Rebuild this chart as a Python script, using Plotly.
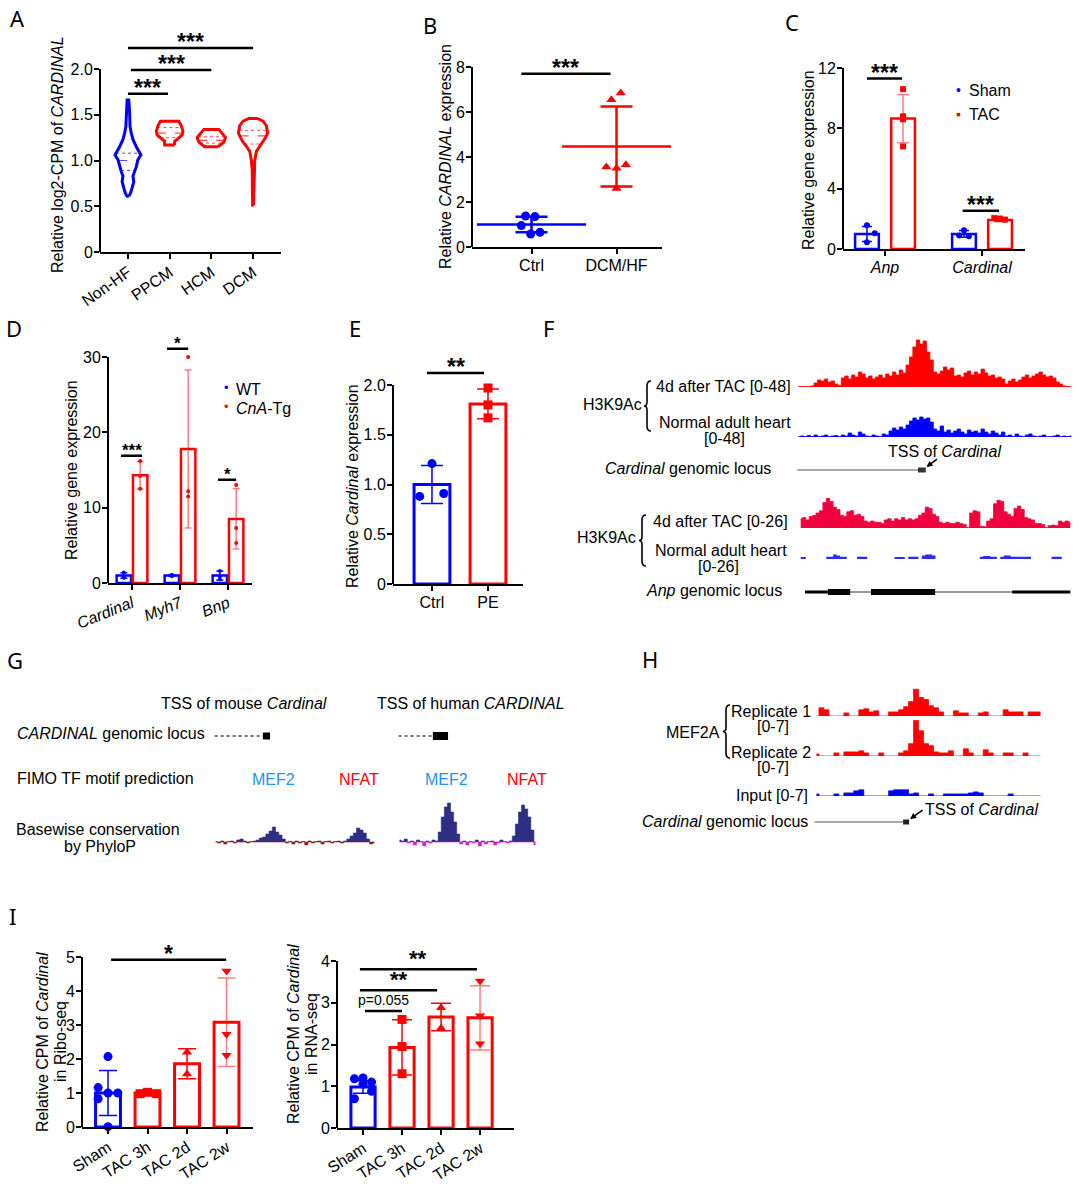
import numpy as np
import plotly.graph_objects as go

# ============================ DATA ============================
# ---- Panel A: violin outlines (level, half-width in category units) ----
A_CATS = ["Non-HF", "PPCM", "HCM", "DCM"]
A_NONHF_Y = [0.61, 0.64, 0.70, 0.77, 0.83, 0.88, 0.93, 1.01, 1.06, 1.15, 1.23, 1.30, 1.37, 1.52, 1.66]
A_NONHF_HW = [0.02, 0.06, 0.10, 0.14, 0.12, 0.16, 0.20, 0.24, 0.31, 0.20, 0.12, 0.08, 0.05, 0.04, 0.02]
A_PPCM_Y = [1.17, 1.21, 1.24, 1.28, 1.32, 1.38, 1.43]
A_PPCM_HW = [0.12, 0.12, 0.20, 0.30, 0.32, 0.28, 0.22]
A_HCM_Y = [1.15, 1.17, 1.20, 1.25, 1.30, 1.34]
A_HCM_HW = [0.16, 0.22, 0.30, 0.34, 0.26, 0.18]
A_DCM_Y = [0.51, 0.90, 1.00, 1.10, 1.15, 1.20, 1.25, 1.30, 1.38, 1.43, 1.46]
A_DCM_HW = [0.01, 0.02, 0.04, 0.08, 0.15, 0.24, 0.30, 0.35, 0.32, 0.24, 0.10]
A_MEDIAN = [1.00, 1.30, 1.22, 1.27]
A_Q1 = [0.89, 1.25, 1.19, 1.18]
A_Q3 = [1.08, 1.36, 1.26, 1.33]
A_SIG = [(0.0, 0.96, 1.73, "***"), (0.07, 2.0, 1.99, "***"), (0.0, 3.0, 2.23, "***")]

# ---- Panel B ----
B_CATS = ["Ctrl", "DCM/HF"]
B_CTRL = [1.38, 1.35, 0.95, 0.58, 0.65]
B_DCMHF = [6.55, 6.85, 3.55, 3.50, 3.65, 2.60]
B_MEAN = [1.00, 4.47]
B_SD = [0.34, 1.78]
B_SIG = [(-0.12, 0.93, 7.7, "***")]

# ---- Panel C ----
C_GENES = ["<i>Anp</i>", "<i>Cardinal</i>"]
C_SHAM_MEAN = [1.0, 1.0]
C_SHAM_SD = [0.5, 0.22]
C_TAC_MEAN = [8.65, 1.92]
C_TAC_SD = [1.6, 0.1]
C_SHAM_PTS = [[1.58, 1.05, 0.45], [1.25, 0.90, 0.85]]
C_TAC_PTS = [[10.6, 8.8, 8.6, 6.8], [2.05, 2.02, 1.95]]
C_SIG = [(-0.186, 0.175, 11.3, "***"), (0.80, 1.175, 2.54, "***")]

# ---- Panel D ----
D_GENES = ["<i>Cardinal</i>", "<i>Myh7</i>", "<i>Bnp</i>"]
D_WT_MEAN = [1.0, 1.0, 1.0]
D_WT_SD = [0.36, 0.1, 0.6]
D_TG_MEAN = [14.3, 17.8, 8.5]
D_TG_SD = [1.85, 10.5, 4.0]
D_WT_PTS = [[1.4, 0.9, 0.7], [1.1, 1.0, 0.9], [1.6, 0.9, 0.5]]
D_TG_PTS = [[16.2, 14.2, 12.5], [30.0, 12.2, 11.5], [13.0, 7.3, 5.3]]
D_SIG = [(-0.23, 0.21, 16.9, "***"), (0.73, 1.17, 31.1, "*"), (1.79, 2.17, 13.7, "*")]

# ---- Panel E ----
E_CATS = ["Ctrl", "PE"]
E_MEAN = [1.0, 1.81]
E_SD = [0.19, 0.15]
E_PTS = [[1.21, 0.88, 0.91], [1.97, 1.80, 1.67]]
E_SIG = [(-0.09, 0.93, 2.12, "**")]

# ---- Panel I ----
I_CATS = ["Sham", "TAC 3h", "TAC 2d", "TAC 2w"]
I_RIBO_MEAN = [1.0, 1.0, 1.86, 3.08]
I_RIBO_SD = [0.66, 0.03, 0.44, 1.30]
I_RIBO_PTS = [[2.07, 1.16, 1.0, 1.0, 0.83, 0.01], [0.98, 1.02, 0.98], [2.20, 1.56], [4.59, 2.73, 2.11]]
I_RIBO_SIG = [(0.08, 2.99, 4.92, "*")]
I_RNA_MEAN = [0.98, 1.93, 2.66, 2.64]
I_RNA_SD = [0.15, 0.66, 0.33, 0.77]
I_RNA_PTS = [[1.18, 1.20, 1.10, 1.05, 0.88, 0.70], [2.60, 1.95, 1.30], [2.88, 2.39], [3.52, 2.69, 2.02]]
I_RNA_SIG = [(0.05, 1.0, 2.8, "p=0.055"), (-0.08, 1.9, 3.3, "**"), (-0.08, 2.92, 3.8, "**")]

# ---- Panel F: coverage tracks (binned signal) ----
F_TAC48 = [0.5, 0.5, 0.5, 0.5, 1, 4, 7, 6, 8, 5, 6, 3, 1.5, 9, 11, 8, 12, 10, 15, 13, 9, 11, 8, 10, 12, 9,
           13, 11, 15, 12, 17, 14, 22, 30, 40, 47, 43, 46, 35, 27, 15, 13, 16, 20, 17, 19, 11, 12, 10,
           14, 16, 12, 15, 13, 18, 14, 11, 12, 9, 10, 8, 3, 6, 8, 5, 7, 10, 12, 9, 11, 13, 15, 12, 10, 11, 9,
           5, 3, 1, 0.5, 0.5]
F_NORM48 = [0.5, 1, 0.5, 1.5, 0.5, 2, 0.5, 1, 2, 0.5, 1, 1.5, 0.5, 2, 1, 4, 2, 1, 5, 3, 1, 0.5, 2, 1, 0.5, 3, 2,
            6, 9, 7, 10, 8, 12, 16, 19, 17, 20, 18, 19, 15, 8, 6, 11,
            5, 7, 4, 6, 8, 5, 3, 7, 5, 6, 4, 8, 5, 3, 6, 4, 2, 5,
            1, 2, 0.5, 3, 1, 0.5, 2, 3, 1, 0.5, 1, 2, 0.5, 0.5, 1, 2, 0.5, 1, 0.5, 1]
F_TAC26 = [8, 9, 7, 10, 11, 13, 15, 22, 26, 23, 18, 16, 11, 10, 14, 15, 11, 12, 10, 6, 5, 6, 5, 5, 4,
           7, 8, 6, 8, 7, 9, 7, 8, 7, 8, 11, 13, 18, 17, 12, 10, 5, 4, 5, 4, 4, 5, 4, 3, 0.5,
           13, 15, 14, 1.5, 1, 6, 8, 21, 24, 23, 14, 12, 10, 17, 19, 16, 9, 8, 7, 4, 4, 3, 0.5,
           2, 2.5, 2, 6, 5, 6, 5]
F_NORM26 = [1.8, 1.8, 0, 0, 0, 0, 0, 0, 2, 2, 4, 3, 2, 2, 0, 0, 0, 2, 2, 2, 0, 0, 0, 0, 0, 0, 0, 0,
            1.8, 1.8, 1.8, 0, 2, 2, 2, 0, 3, 4, 4, 3, 0, 0, 0, 0, 0, 0, 0, 0, 0, 0, 0, 0, 0,
            2, 2.5, 2.5, 2, 2, 0, 2, 3, 3, 2, 2, 2, 2, 2, 2, 0, 0, 0, 0, 0, 0, 2, 2, 2, 0, 0, 0]
F_CARD_INTRON = [(-0.4, 35.0)]
F_CARD_EXON = [(35.0, 37.3)]
F_ANP_INTRON = [(1.26, 79.0)]
F_ANP_UTR = [(1.26, 8.0), (62.0, 79.0)]
F_ANP_CDS = [(8.0, 14.5), (20.6, 39.4)]

# ---- Panel G: PhyloP conservation ----
G_MOUSE = [0.5, -1, 1, -2, 0.5, 1, -1, 2, 3, 1, -1, 0.5, 1, 2, 4, 5, 8, 11, 15, 10,
           7, 3, -1, 0.5, -2, 1, -1, 0.5, -3, 1, -1, 0.5, 1, -2, 0.5, 1, -1, 0.5, 1, -1,
           1, 3, 6, 9, 14, 12, 9, 3, -2, -1]
G_HUMAN = [2, 1, 3, -1, 1, -3, 2, 0.5, -4, 1, -1, 2, 1, 10, 25, 35, 39, 30, 20, 8,
           -2, 1, -3, 0.5, -1, 2, -4, 1, -2, 0.5, 1, -3, -1, 2, 0.5, -1, 1, 6, 18, 30,
           37, 33, 25, 12, -3]
G_MOUSE_INTRON = [(-0.3, 14.6)]
G_MOUSE_EXON = [(14.6, 16.8)]
G_HUMAN_INTRON = [(-0.3, 10.8)]
G_HUMAN_EXON = [(10.8, 15.7)]
G_MOTIFS = ["MEF2", "NFAT", "MEF2", "NFAT"]

# ---- Panel H: MEF2A ChIP tracks ----
H_REP1 = [0, 1.6, 1.2, 0, 0, 0, 0.6, 0, 0, 1.2, 1.4, 0.8, 1.0, 0, 0, 0.8, 0.8, 1.2, 1.8, 2.8,
          5.2, 3.6, 3.2, 2.0, 1.6, 0.8, 0, 0, 1.0, 0.6, 0.6, 0, 0, 0.6, 0.8, 0, 0, 0, 1.2, 0.8,
          0.8, 0.8, 0, 0.8, 0.8, 0.8]
H_REP2 = [0.4, 0, 0, 0, 0.6, 0, 0.8, 0.8, 0.8, 1.0, 0.6, 0, 0, 0.6, 0, 0, 0, 0.6, 1.0, 2.4,
          6.9, 4.9, 2.4, 2.0, 0.8, 0.6, 0.6, 1.0, 0, 0, 1.4, 0.6, 0, 0, 1.2, 0.6, 0, 0, 0.6, 0.6,
          0, 0, 0.6, 0, 0, 0]
H_INPUT = [0.4, 0, 0, 0, 0.4, 0, 0.6, 0.6, 1.0, 1.2, 0, 0, 0, 0, 0, 1.0, 1.2, 1.2, 1.2, 0.4,
           0.6, 0, 0, 0.4, 0, 0, 0.4, 0.4, 0.4, 0.4, 0.4, 0.6, 0.8, 0.6, 0, 0, 0, 0, 0, 0.4,
           0, 0, 0, 0, 0, 0]
H_CARD_INTRON = [(-0.4, 17.4)]
H_CARD_EXON = [(17.4, 18.6)]

# ============================ STYLE ============================
W, H = 1080, 1188
FONT = "Liberation Sans, Arial, Helvetica, sans-serif"
LETTER_FONT = "Noto Sans, Open Sans, sans-serif"
BLUE = "#0000ff"
RED = "#ff0000"
LRED = "rgba(255,0,0,0.5)"
CRIMSON = "#f0003c"

fig = go.Figure()
LAYOUT = {}
SHAPES = []
ANNS = []
_n = [0]


def px2x(p):
    return p / W


def px2y(p):
    return 1 - p / H


def new_axes(x0, x1, ytop, ybot, xr, yr):
    _n[0] += 1
    s = "" if _n[0] == 1 else str(_n[0])
    base = dict(showgrid=False, zeroline=False, fixedrange=True, visible=False, automargin=False)
    LAYOUT["xaxis" + s] = dict(base, domain=[px2x(x0), px2x(x1)], range=xr, anchor="y" + s)
    LAYOUT["yaxis" + s] = dict(base, domain=[px2y(ybot), px2y(ytop)], range=yr, anchor="x" + s)
    return "x" + s, "y" + s


def chart_axes(x0, x1, y0, ppu, xr, ytop_val, yline, yticks, ytext, xticks, xtext, angle=0):
    xa, ya = new_axes(x0, x1, y0 - ytop_val * ppu, y0, xr, [0, ytop_val])
    s = xa[1:]
    tk = dict(visible=True, ticks="outside", ticklen=5, tickwidth=2, tickcolor="black",
              ticklabelstandoff=-2, tickfont=dict(family=FONT, size=16, color="black"))
    LAYOUT["xaxis" + s].update(tk, showline=True, linewidth=2, linecolor="black", tickmode="array",
                               tickvals=xticks, ticktext=xtext, tickangle=angle)
    LAYOUT["yaxis" + s].update(tk, showline=False, tickmode="array", tickvals=yticks, ticktext=ytext)
    SHAPES.append(dict(type="line", xref=xa + " domain", yref=ya, x0=0, x1=0, y0=0, y1=yline,
                       line=dict(color="black", width=2)))
    return xa, ya


def label(x, y, text, xanchor="center", size=16, color="black", family=FONT, angle=0):
    ANNS.append(dict(xref="paper", yref="paper", x=px2x(x), y=px2y(y), text=text, showarrow=False,
                     xanchor=xanchor, yanchor="middle", textangle=angle,
                     font=dict(family=family, size=size, color=color)))


def sig(xa, ya, sigs, size=23, yshift=-9):
    for x0, x1, y, t in sigs:
        SHAPES.append(dict(type="line", xref=xa, yref=ya, x0=x0, x1=x1, y0=y, y1=y,
                           line=dict(color="black", width=2.5)))
        star = t.startswith("*")
        ANNS.append(dict(xref=xa, yref=ya, x=(x0 + x1) / 2, y=y, text=t, showarrow=False,
                         yanchor="bottom", yshift=yshift if star else 1,
                         font=dict(family=FONT, size=size if star else 14, color="black",
                                   weight="bold" if star else "normal")))


def bars(xa, ya, xs, means, sds, width, colors, errcolors, cap, lw=2.5):
    for x, m, s, c, ec in zip(xs, means, sds, colors, errcolors):
        fig.add_trace(go.Bar(x=[x], y=[m], width=width,
                             marker=dict(color="rgba(0,0,0,0)", line=dict(color=c, width=lw)),
                             error_y=dict(type="data", array=[s], visible=True, color=ec,
                                          thickness=1.5, width=cap),
                             xaxis=xa, yaxis=ya, hoverinfo="skip"))


def points(xa, ya, xs, ys, color, symbol, size):
    fig.add_trace(go.Scatter(x=xs, y=ys, mode="markers", cliponaxis=False,
                             marker=dict(color=color, symbol=symbol, size=size, line=dict(width=0)),
                             xaxis=xa, yaxis=ya, hoverinfo="skip"))


def track(xa, ya, vals, color, lw=0.8):
    fig.add_trace(go.Scatter(x=list(range(len(vals))), y=vals, mode="lines",
                             line=dict(color=color, width=lw, shape="hvh"),
                             fill="tozeroy", fillcolor=color, xaxis=xa, yaxis=ya, hoverinfo="skip"))


def segs(xa, ya, pairs, color, width, dash=None):
    xs, ys = [], []
    for a, b in pairs:
        xs += [a, b, None]
        ys += [0, 0, None]
    fig.add_trace(go.Scatter(x=xs, y=ys, mode="lines", line=dict(color=color, width=width, dash=dash),
                             xaxis=xa, yaxis=ya, hoverinfo="skip", cliponaxis=False))


def brace(x, ytop, ybot):
    ym = (ytop + ybot) / 2
    P = lambda a, b: f"{px2x(a):.5f},{px2y(b):.5f}"
    path = (f"M {P(x + 4, ytop)} Q {P(x, ytop)} {P(x, ytop + 5)} L {P(x, ym - 4)} "
            f"Q {P(x, ym)} {P(x - 3, ym)} Q {P(x, ym)} {P(x, ym + 4)} L {P(x, ybot - 5)} "
            f"Q {P(x, ybot)} {P(x + 4, ybot)}")
    SHAPES.append(dict(type="path", xref="paper", yref="paper", path=path,
                       line=dict(color="black", width=1.6)))


# ============================ PANEL A ============================
xa, ya = chart_axes(100, 281, 252, 91.5, [-0.67, 3.67], 2.42, 2.0,
                    [0, 0.5, 1.0, 1.5, 2.0], ["0", "0.5", "1.0", "1.5", "2.0"],
                    [0, 1, 2, 3], A_CATS, angle=-35)
violins = [(A_NONHF_Y, A_NONHF_HW, BLUE), (A_PPCM_Y, A_PPCM_HW, RED),
           (A_HCM_Y, A_HCM_HW, RED), (A_DCM_Y, A_DCM_HW, RED)]
for c, (ys, hws, col) in enumerate(violins):
    vx = [c + h for h in hws] + [c - h for h in hws[::-1]] + [c + hws[0]]
    vy = list(ys) + list(ys[::-1]) + [ys[0]]
    fig.add_trace(go.Scatter(x=vx, y=vy, mode="lines", line=dict(color=col, width=3),
                             xaxis=xa, yaxis=ya, hoverinfo="skip"))
    for q, dash, w in [(A_MEDIAN[c], "dash", 1.2), (A_Q1[c], "dot", 1.0), (A_Q3[c], "dot", 1.0)]:
        hw = float(np.interp(q, ys, hws))
        fig.add_trace(go.Scatter(x=[c - hw, c + hw], y=[q, q], mode="lines",
                                 line=dict(color=col, width=w, dash=dash), opacity=0.7,
                                 xaxis=xa, yaxis=ya, hoverinfo="skip"))
sig(xa, ya, A_SIG)
label(58, 155, "Relative log2-CPM of <i>CARDINAL</i>", angle=-90)

# ============================ PANEL B ============================
xa, ya = chart_axes(472, 662, 247, 22.5, [-0.7, 1.535], 8.0, 8.0,
                    [0, 2, 4, 6, 8], ["0", "2", "4", "6", "8"], [0, 1], B_CATS)
B_DX = [[-0.07, 0.04, -0.12, -0.01, 0.10], [-0.06, 0.05, -0.12, 0.0, 0.11, 0.0]]
for i, (vals, col, sym) in enumerate([(B_CTRL, BLUE, "circle"), (B_DCMHF, RED, "triangle-up")]):
    points(xa, ya, [i + d for d in B_DX[i]], vals, col, sym, 9)
    fig.add_trace(go.Scatter(x=[i], y=[B_MEAN[i]], mode="markers", cliponaxis=False,
                             marker=dict(symbol="line-ew-open", size=78, color=col,
                                         line=dict(color=col, width=2.5)),
                             error_y=dict(type="data", array=[B_SD[i]], color=col, thickness=2.5, width=16),
                             xaxis=xa, yaxis=ya, hoverinfo="skip"))
sig(xa, ya, B_SIG)
label(446, 157, "Relative <i>CARDINAL</i> expression", angle=-90)

# ============================ PANEL C ============================
xa, ya = chart_axes(843, 1025, 249, 15.08, [-0.433, 1.443], 12.0, 12.0,
                    [0, 4, 8, 12], ["0", "4", "8", "12"], [0, 1], C_GENES)
C_OFF = 0.186
bars(xa, ya, [g - C_OFF for g in range(2)], C_SHAM_MEAN, C_SHAM_SD, 0.245, [BLUE, BLUE], [BLUE, BLUE], 5)
bars(xa, ya, [g + C_OFF for g in range(2)], C_TAC_MEAN, C_TAC_SD, 0.245, [RED, RED], [LRED, RED], 6)
C_SHAM_DX = [[0.0, 0.08, 0.0], [0.0, -0.05, 0.05]]
C_TAC_DX = [[0, 0, 0, 0], [-0.06, 0.0, 0.05]]
for g in range(2):
    points(xa, ya, [g - C_OFF + d for d in C_SHAM_DX[g]], C_SHAM_PTS[g], BLUE, "circle", 6)
    points(xa, ya, [g + C_OFF + d for d in C_TAC_DX[g]], C_TAC_PTS[g], RED, "square", 6)
sig(xa, ya, C_SIG)
label(808, 160, "Relative gene expression", angle=-90)
label(958, 90, "•", color=BLUE, size=14)
label(967, 91, "Sham", xanchor="left")
label(958, 114, "▪", color=RED, size=14)
label(967, 115, "TAC", xanchor="left")

# ============================ PANEL D ============================
xa, ya = chart_axes(108, 252, 583, 7.53, [-0.5, 2.5], 33.0, 30.0,
                    [0, 10, 20, 30], ["0", "10", "20", "30"], [0, 1, 2], D_GENES, angle=-22)
D_OFF = 0.17
bars(xa, ya, [g - D_OFF for g in range(3)], D_WT_MEAN, D_WT_SD, 0.3, [BLUE] * 3, [BLUE] * 3, 3.5, lw=2.5)
bars(xa, ya, [g + D_OFF for g in range(3)], D_TG_MEAN, D_TG_SD, 0.3, [RED] * 3, [LRED] * 3, 3.5, lw=2.5)
for g in range(3):
    points(xa, ya, [g - D_OFF] * len(D_WT_PTS[g]), D_WT_PTS[g], BLUE, "circle", 4)
    points(xa, ya, [g + D_OFF] * len(D_TG_PTS[g]), D_TG_PTS[g], RED, "circle", 4)
sig(xa, ya, D_SIG, size=17, yshift=-6)
label(72, 470, "Relative gene expression", angle=-90)
label(226, 388, "•", color=BLUE, size=13)
label(234, 389, "WT", xanchor="left")
label(226, 407, "•", color=RED, size=13)
label(234, 408, "<i>CnA</i>-Tg", xanchor="left")

# ============================ PANEL E ============================
xa, ya = chart_axes(393, 523, 584, 99.5, [-0.696, 1.625], 2.2, 2.0,
                    [0, 0.5, 1.0, 1.5, 2.0], ["0", "0.5", "1.0", "1.5", "2.0"], [0, 1], E_CATS)
bars(xa, ya, [0, 1], E_MEAN, E_SD, 0.64, [BLUE, RED], [BLUE, RED], 11, lw=3)
E_DX = [[0.0, -0.22, 0.21], [0.0, 0.0, 0.0]]
points(xa, ya, [0 + d for d in E_DX[0]], E_PTS[0], BLUE, "circle", 9)
points(xa, ya, [1 + d for d in E_DX[1]], E_PTS[1], RED, "square", 9)
sig(xa, ya, E_SIG)
label(352, 486, "Relative <i>Cardinal</i> expression", angle=-90)

# ============================ PANEL I ============================
I_SYM = ["circle", "square", "triangle-up", "triangle-down"]
I_COL = [BLUE, RED, RED, RED]
I_ECOL = [BLUE, RED, RED, LRED]
xa, ya = chart_axes(82, 253, 1127, 34.0, [-0.658, 3.67], 5.05, 5.0,
                    [0, 1, 2, 3, 4, 5], ["0", "1", "2", "3", "4", "5"], [0, 1, 2, 3], I_CATS, angle=-33)
bars(xa, ya, [0, 1, 2, 3], I_RIBO_MEAN, I_RIBO_SD, 0.63, I_COL, I_ECOL, 9, lw=3)
I_RIBO_DX = [[0, -0.25, 0, 0.25, -0.25, 0], [-0.19, 0, 0.23], [0, 0], [0, 0, 0]]
for g in range(4):
    points(xa, ya, [g + d for d in I_RIBO_DX[g]], I_RIBO_PTS[g], I_COL[g], I_SYM[g], 9)
sig(xa, ya, I_RIBO_SIG)
label(42, 1042, "Relative CPM of <i>Cardinal</i>", angle=-90)
label(60, 1042, "in Ribo-seq", angle=-90)

xa, ya = chart_axes(337, 514, 1128, 41.75, [-0.667, 3.87], 4.05, 4.0,
                    [0, 1, 2, 3, 4], ["0", "1", "2", "3", "4"], [0, 1, 2, 3], I_CATS, angle=-33)
bars(xa, ya, [0, 1, 2, 3], I_RNA_MEAN, I_RNA_SD, 0.62, I_COL, I_ECOL, 10, lw=3)
I_RNA_DX = [[-0.22, 0, 0.22, 0, 0.22, -0.22], [0, 0, 0], [0, 0], [0, 0, 0]]
for g in range(4):
    points(xa, ya, [g + d for d in I_RNA_DX[g]], I_RNA_PTS[g], I_COL[g], I_SYM[g], 9)
sig(xa, ya, I_RNA_SIG, size=22, yshift=-4)
label(293, 1034, "Relative CPM of <i>Cardinal</i>", angle=-90)
label(311, 1034, "in RNA-seq", angle=-90)

# ============================ PANEL F ============================
xa, ya = new_axes(797, 1073, 339, 387, [-0.5, 80.5], [0, 48])
track(xa, ya, F_TAC48, RED)
xa, ya = new_axes(797, 1073, 389, 437, [-0.5, 80.5], [0, 48])
track(xa, ya, F_NORM48, BLUE)
xa, ya = new_axes(797, 1073, 460, 480, [-0.5, 80.5], [-1, 1])
segs(xa, ya, F_CARD_INTRON, "#555555", 1)
segs(xa, ya, F_CARD_EXON, "#333333", 5)
ANNS.append(dict(xref=xa, yref=ya, x=F_CARD_EXON[0][1] + 0.2, y=0.3, ax=12, ay=-9, text="",
                 showarrow=True, arrowhead=2, arrowsize=0.8, arrowwidth=1.5, arrowcolor="black"))
xa, ya = new_axes(799, 1072, 498, 528, [-0.5, 79.5], [0, 26])
track(xa, ya, F_TAC26, CRIMSON)
xa, ya = new_axes(799, 1072, 529, 559, [-0.5, 79.5], [0, 26])
track(xa, ya, F_NORM26, "#2a2aff", lw=0)
xa, ya = new_axes(799, 1072, 582, 602, [-0.5, 79.5], [-1, 1])
segs(xa, ya, F_ANP_INTRON, "#333333", 1)
segs(xa, ya, F_ANP_UTR, "black", 3)
segs(xa, ya, F_ANP_CDS, "black", 6)

label(612, 405, "H3K9Ac")
brace(647, 381, 431)
label(793, 386, "4d after TAC [0-48]", xanchor="right")
label(793, 422, "Normal adult heart", xanchor="right")
label(724, 438, "[0-48]")
label(944, 452, "TSS of <i>Cardinal</i>")
label(773, 468, "<i>Cardinal</i> genomic locus", xanchor="right")
label(606, 537, "H3K9Ac")
brace(642, 515, 566)
label(790, 521, "4d after TAC [0-26]", xanchor="right")
label(789, 550, "Normal adult heart", xanchor="right")
label(718, 566, "[0-26]")
label(784, 590, "<i>Anp</i> genomic locus", xanchor="right")

# ============================ PANEL G ============================
xa, ya = new_axes(214, 376, 726, 746, [-0.5, 49.5], [-1, 1])
segs(xa, ya, G_MOUSE_INTRON, "#444444", 1.5, dash="dot")
segs(xa, ya, G_MOUSE_EXON, "black", 7)
xa, ya = new_axes(398, 537, 726, 746, [-0.5, 44.5], [-1, 1])
segs(xa, ya, G_HUMAN_INTRON, "#2f5a2f", 1.5, dash="dot")
segs(xa, ya, G_HUMAN_EXON, "black", 8)
gm = np.array(G_MOUSE, dtype=float)
gh = np.array(G_HUMAN, dtype=float)
xa, ya = new_axes(214, 376, 802, 850, [-0.5, 49.5], [-8, 40])
track(xa, ya, np.clip(gm, 0, None), "#2e2e82", lw=0.6)
track(xa, ya, np.clip(gm, None, 0), "#8b2222", lw=0.6)
xa, ya = new_axes(398, 537, 802, 850, [-0.5, 44.5], [-8, 40])
track(xa, ya, np.clip(gh, 0, None), "#2e2e82", lw=0.6)
track(xa, ya, np.clip(gh, None, 0), "#d21ed2", lw=0.6)

label(244, 703, "TSS of mouse <i>Cardinal</i>")
label(471, 703, "TSS of human <i>CARDINAL</i>")
label(15, 733, "<i>CARDINAL</i> genomic locus", xanchor="left")
label(15, 778, "FIMO TF motif prediction", xanchor="left")
for name, xc in zip(G_MOTIFS, [273, 359, 446, 527]):
    label(xc, 779, name, color="#1e90ff" if name == "MEF2" else RED)
label(98, 829, "Basewise conservation")
label(100, 846, "by PhyloP")

# ============================ PANEL H ============================
xa, ya = new_axes(814, 1043, 680, 716, [-0.5, 45.5], [0, 7])
track(xa, ya, H_REP1, RED)
xa, ya = new_axes(814, 1043, 720, 756, [-0.5, 45.5], [0, 7])
track(xa, ya, H_REP2, RED)
xa, ya = new_axes(814, 1043, 760, 796, [-0.5, 45.5], [0, 7])
track(xa, ya, H_INPUT, BLUE)
xa, ya = new_axes(814, 1043, 812, 832, [-0.5, 45.5], [-1, 1])
segs(xa, ya, H_CARD_INTRON, "#555555", 1)
segs(xa, ya, H_CARD_EXON, "#222222", 5)
ANNS.append(dict(xref=xa, yref=ya, x=H_CARD_EXON[0][1] + 0.2, y=0.3, ax=14, ay=-10, text="",
                 showarrow=True, arrowhead=2, arrowsize=0.8, arrowwidth=1.5, arrowcolor="black"))
label(693, 732, "MEF2A")
brace(726, 705, 758)
label(813, 711, "Replicate 1", xanchor="right")
label(773, 726, "[0-7]")
label(813, 752, "Replicate 2", xanchor="right")
label(773, 767, "[0-7]")
label(810, 795, "Input [0-7]", xanchor="right")
label(810, 821, "<i>Cardinal</i> genomic locus", xanchor="right")
label(923, 810, "TSS of <i>Cardinal</i>", xanchor="left")

# ============================ PANEL LETTERS ============================
for letter, (lx, ly) in {"A": (17, 18), "B": (430, 25), "C": (792, 22), "D": (14, 328),
                         "E": (355, 328), "F": (548, 328), "G": (15, 660), "H": (650, 659),
                         "I": (12, 916)}.items():
    label(lx, ly, letter, size=22, family=LETTER_FONT)

fig.update_layout(LAYOUT)
fig.update_layout(width=W, height=H, margin=dict(l=0, r=0, t=0, b=0, pad=0, autoexpand=False),
                  showlegend=False, barmode="overlay", plot_bgcolor="white", paper_bgcolor="white",
                  shapes=SHAPES, annotations=ANNS, font=dict(family=FONT, color="black"))
fig.write_html("out.html", include_plotlyjs=True, config={"displayModeBar": False},
               post_script="document.body.style.margin='0';")
